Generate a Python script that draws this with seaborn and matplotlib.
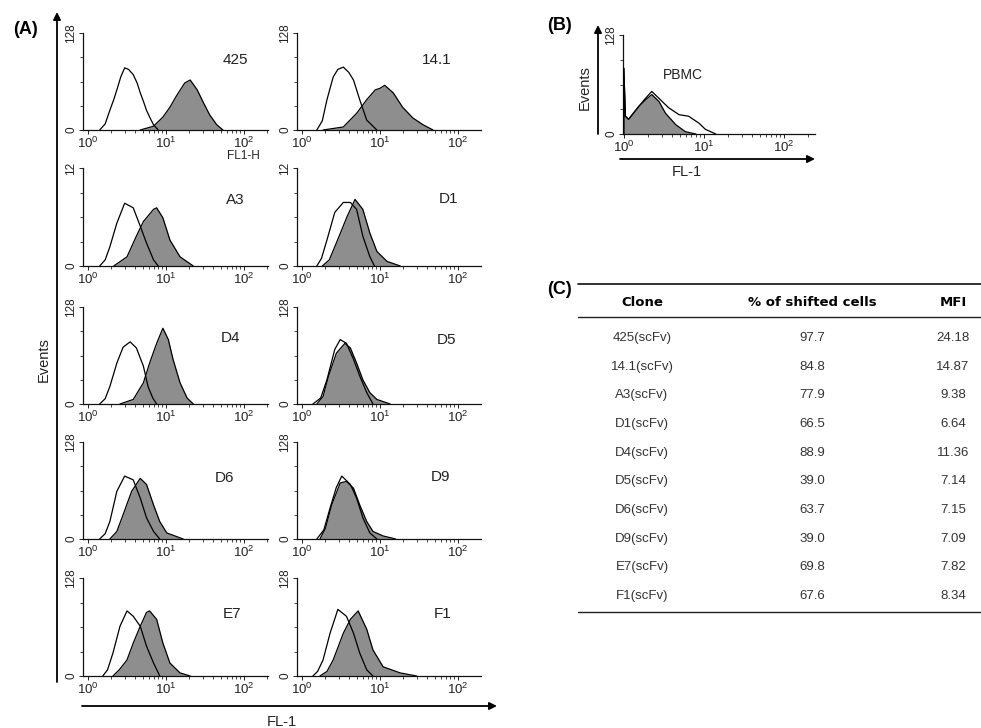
import numpy as np
import pandas as pd
import matplotlib
matplotlib.use("Agg")
import matplotlib.pyplot as plt
from matplotlib.patches import FancyArrowPatch
from matplotlib.lines import Line2D
from matplotlib.ticker import FixedLocator, NullFormatter
import seaborn as sns

# ---------------------------------------------------------------- data
# flow-cytometry histograms: fluorescence given in decades (log10 FL-1),
# events per channel on a 0-128 scale
CLONES = ["425", "14.1", "A3", "D1", "D4", "D5", "D6", "D9", "E7", "F1"]

CONTROL_DECADE = [
    [0.15, 0.22, 0.28, 0.33, 0.37, 0.42, 0.47, 0.52, 0.58, 0.63, 0.67, 0.71, 0.75, 0.80, 0.84, 0.90],
    [0.19, 0.26, 0.32, 0.40, 0.46, 0.53, 0.60, 0.66, 0.74, 0.83, 0.96],
    [0.15, 0.22, 0.28, 0.37, 0.47, 0.58, 0.67, 0.75, 0.84, 0.90],
    [0.19, 0.25, 0.32, 0.42, 0.53, 0.62, 0.70, 0.78, 0.87, 0.93],
    [0.15, 0.22, 0.28, 0.37, 0.45, 0.54, 0.62, 0.71, 0.77, 0.83, 0.88],
    [0.14, 0.24, 0.32, 0.42, 0.49, 0.57, 0.66, 0.74, 0.83, 0.91],
    [0.15, 0.22, 0.28, 0.37, 0.47, 0.58, 0.67, 0.75, 0.84, 0.92],
    [0.19, 0.28, 0.36, 0.44, 0.51, 0.62, 0.70, 0.78, 0.87, 0.96],
    [0.19, 0.25, 0.32, 0.41, 0.50, 0.58, 0.67, 0.75, 0.84, 0.92],
    [0.14, 0.20, 0.27, 0.36, 0.46, 0.57, 0.66, 0.74, 0.83, 0.91],
]
CONTROL_EVENTS = [
    [0, 8, 26, 40, 53, 70, 82, 80, 73, 62, 49, 38, 26, 15, 7, 0],
    [0, 12, 40, 70, 80, 83, 76, 66, 40, 13, 0],
    [0, 8, 25, 56, 82, 76, 52, 30, 8, 0],
    [0, 10, 34, 70, 83, 83, 74, 39, 12, 0],
    [0, 7, 23, 54, 75, 82, 74, 50, 23, 8, 0],
    [0, 8, 32, 72, 85, 80, 59, 37, 15, 0],
    [0, 7, 23, 63, 83, 78, 54, 28, 10, 0],
    [0, 12, 41, 68, 83, 72, 54, 28, 8, 0],
    [0, 8, 30, 65, 85, 78, 65, 39, 17, 0],
    [0, 6, 21, 56, 87, 78, 56, 30, 8, 0],
]
SCFV_DECADE = [
    [0.67, 0.84, 0.96, 1.05, 1.14, 1.24, 1.31, 1.40, 1.48, 1.56, 1.65, 1.73],
    [0.27, 0.53, 0.70, 0.83, 0.94, 1.00, 1.06, 1.17, 1.29, 1.42, 1.55, 1.68],
    [0.33, 0.50, 0.62, 0.71, 0.84, 0.88, 0.96, 1.05, 1.18, 1.35],
    [0.26, 0.35, 0.44, 0.58, 0.68, 0.78, 0.87, 0.96, 1.09, 1.26],
    [0.41, 0.58, 0.71, 0.79, 0.88, 0.96, 1.03, 1.09, 1.18, 1.27, 1.35],
    [0.19, 0.27, 0.34, 0.44, 0.55, 0.62, 0.70, 0.78, 0.87, 0.96, 1.13],
    [0.28, 0.37, 0.45, 0.56, 0.67, 0.75, 0.84, 0.92, 1.01, 1.22],
    [0.23, 0.30, 0.38, 0.49, 0.57, 0.66, 0.74, 0.83, 0.91, 1.04, 1.20],
    [0.32, 0.40, 0.50, 0.58, 0.67, 0.75, 0.79, 0.88, 0.96, 1.05, 1.18, 1.31],
    [0.23, 0.32, 0.40, 0.53, 0.62, 0.72, 0.83, 0.91, 1.04, 1.26, 1.47],
]
SCFV_EVENTS = [
    [0, 5, 17, 30, 46, 62, 66, 53, 36, 20, 7, 0],
    [0, 4, 22, 40, 53, 55, 59, 49, 30, 16, 7, 0],
    [0, 12, 39, 58, 74, 76, 63, 34, 12, 0],
    [0, 8, 30, 65, 87, 74, 43, 19, 6, 0],
    [0, 6, 28, 54, 80, 100, 85, 59, 28, 8, 0],
    [0, 10, 37, 67, 80, 74, 54, 32, 15, 6, 0],
    [0, 10, 32, 63, 80, 72, 45, 23, 8, 0],
    [0, 14, 45, 74, 76, 67, 45, 23, 10, 4, 0],
    [0, 8, 21, 43, 65, 83, 85, 74, 43, 17, 4, 0],
    [0, 6, 21, 56, 74, 85, 61, 34, 12, 4, 0],
]
YMAX_LABELS = ["128", "128", "12", "12", "128", "128", "128", "128", "128", "128"]

# PBMC panel
PBMC_STAINED_DECADE = [0.0, 0.0, 0.02, 0.06, 0.19, 0.27, 0.35, 0.44, 0.52, 0.65, 0.77, 0.90]
PBMC_STAINED_EVENTS = [0, 85, 23, 19, 36, 44, 51, 42, 27, 12, 3, 0]
PBMC_OUTLINE_DECADE = [0.0, 0.0, 0.02, 0.06, 0.19, 0.27, 0.35, 0.44, 0.56, 0.69, 0.81, 0.94, 1.02, 1.15]
PBMC_OUTLINE_EVENTS = [0, 85, 23, 19, 36, 46, 55, 46, 34, 25, 23, 14, 6, 0]

# summary table
TABLE_CLONES = ["425(scFv)", "14.1(scFv)", "A3(scFv)", "D1(scFv)", "D4(scFv)",
                "D5(scFv)", "D6(scFv)", "D9(scFv)", "E7(scFv)", "F1(scFv)"]
SHIFTED_PCT = [97.7, 84.8, 77.9, 66.5, 88.9, 39.0, 63.7, 39.0, 69.8, 67.6]
MFI = [24.18, 14.87, 9.38, 6.64, 11.36, 7.14, 7.15, 7.09, 7.82, 8.34]

# ---------------------------------------------------------------- style
sns.set_theme(style="ticks")
plt.rcParams["font.family"] = ["Liberation Sans", "DejaVu Sans"]
plt.rcParams["mathtext.fontset"] = "custom"
plt.rcParams["mathtext.rm"] = "Liberation Sans"
plt.rcParams["mathtext.default"] = "regular"

W, H = 981, 728
fig = plt.figure(figsize=(W / 100, H / 100), dpi=100)
fig.patch.set_facecolor("white")

FILL = "#8e8e8e"
INK = "#222222"


def box(left, top, right, bottom):
    return [left / W, 1 - bottom / H, (right - left) / W, (bottom - top) / H]


def fpos(x, y):
    return (x / W, 1 - y / H)


def arrow(x0, y0, x1, y1):
    fig.add_artist(FancyArrowPatch(fpos(x0, y0), fpos(x1, y1), transform=fig.transFigure,
                                   arrowstyle="-|>", mutation_scale=11, lw=1.3,
                                   color="black", shrinkA=0, shrinkB=0))


def style_hist_axes(ax, xlo, xhi, top_label):
    ax.set_xscale("log")
    ax.set_xlim(10 ** xlo, 10 ** xhi)
    ax.set_ylim(0, 128)
    ax.set_facecolor("none")
    ax.xaxis.set_major_locator(FixedLocator([1, 10, 100]))
    ax.set_xticklabels([r"$10^{0}$", r"$10^{1}$", r"$10^{2}$"])
    minors = [k * 10 ** d for d in range(0, 3) for k in range(2, 10) if k * 10 ** d <= 10 ** xhi]
    ax.xaxis.set_minor_locator(FixedLocator(minors))
    ax.xaxis.set_minor_formatter(NullFormatter())
    ax.yaxis.set_major_locator(FixedLocator([0, 128]))
    ax.set_yticklabels(["0", top_label], rotation=90, va="center")
    ax.yaxis.set_minor_locator(FixedLocator([32, 64, 96]))
    ax.tick_params(axis="x", which="major", length=3, width=0.7, pad=1,
                   labelsize=9.5, colors=INK)
    ax.tick_params(axis="x", which="minor", length=2, width=0.6)
    ax.tick_params(axis="y", which="major", length=3, width=0.7, pad=1,
                   labelsize=8.5, colors=INK)
    ax.tick_params(axis="y", which="minor", length=2, width=0.6)
    ax.set_xlabel("")
    ax.set_ylabel("")
    sns.despine(ax=ax)
    for s in ("left", "bottom"):
        ax.spines[s].set_linewidth(0.9)
        ax.spines[s].set_color("#111111")


def draw_pair(ax, filled_dec, filled_ev, open_dec, open_ev):
    fx = 10 ** np.asarray(filled_dec, dtype=float)
    ox = 10 ** np.asarray(open_dec, dtype=float)
    ax.fill_between(fx, filled_ev, 0, color=FILL, lw=0, zorder=1)
    sns.lineplot(x=fx, y=filled_ev, ax=ax, color="black", lw=0.9,
                 estimator=None, sort=False, zorder=2)
    sns.lineplot(x=ox, y=open_ev, ax=ax, color="black", lw=0.9,
                 estimator=None, sort=False, zorder=3)


# ---------------------------------------------------------------- panel A
cols = [(83, 268), (297, 481)]
rows = [(33, 130), (168, 266), (307, 404), (442, 539), (578, 676)]
label_pos = [(235, 60), (437, 60), (235, 200), (449, 199), (230, 338),
             (447, 340), (224, 478), (440, 477), (232, 614), (443, 614)]

for i, clone in enumerate(CLONES):
    r, c = divmod(i, 2)
    left, right = cols[c]
    top, bottom = rows[r]
    ax = fig.add_axes(box(left, top, right, bottom))
    draw_pair(ax, SCFV_DECADE[i], SCFV_EVENTS[i], CONTROL_DECADE[i], CONTROL_EVENTS[i])
    xlo = -5 / 78
    xhi = xlo + (right - left) / 78
    style_hist_axes(ax, xlo, xhi, YMAX_LABELS[i])
    lx, ly = label_pos[i]
    fig.text(*fpos(lx, ly), clone, ha="center", va="center", fontsize=11, color=INK)

fig.text(*fpos(243, 156), "FL1-H", ha="center", va="center", fontsize=8.5, color=INK)

arrow(57, 682, 57, 12)
arrow(82, 706, 497, 706)
fig.text(*fpos(44, 360), "Events", rotation=90, ha="center", va="center",
         fontsize=10.5, color=INK)
fig.text(*fpos(282, 722), "FL-1", ha="center", va="center", fontsize=10.5, color=INK)
fig.text(*fpos(26, 30), "(A)", ha="center", va="center", fontsize=13,
         fontweight="bold", color="black")

# ---------------------------------------------------------------- panel B
axb = fig.add_axes(box(623, 35, 815, 134))
draw_pair(axb, PBMC_STAINED_DECADE, PBMC_STAINED_EVENTS,
          PBMC_OUTLINE_DECADE, PBMC_OUTLINE_EVENTS)
style_hist_axes(axb, -0.01, -0.01 + 192 / 80, "128")
fig.text(*fpos(683, 75), "PBMC", ha="center", va="center", fontsize=10, color=INK)
arrow(598, 134, 598, 25)
arrow(620, 159, 815, 159)
fig.text(*fpos(585, 88), "Events", rotation=90, ha="center", va="center",
         fontsize=10.5, color=INK)
fig.text(*fpos(687, 172), "FL-1", ha="center", va="center", fontsize=10.5, color=INK)
fig.text(*fpos(560, 26), "(B)", ha="center", va="center", fontsize=13,
         fontweight="bold", color="black")

# ---------------------------------------------------------------- panel C
def hline(y, x0=578, x1=981, lw=1.0):
    fig.add_artist(Line2D([x0 / W, x1 / W], [1 - y / H, 1 - y / H],
                          transform=fig.transFigure, lw=lw, color="#222222"))


col_x = [642, 812, 953]
hline(284, lw=1.3)
hline(317, lw=1.0)
hline(612, lw=1.0)
for x, head in zip(col_x, ["Clone", "% of shifted cells", "MFI"]):
    fig.text(*fpos(x, 302), head, ha="center", va="center", fontsize=9.5,
             fontweight="bold", family=["DejaVu Sans"], color="black")

row_y = [338, 367, 395, 424, 453, 481, 510, 539, 567, 596]
for y, name, pct, mfi in zip(row_y, TABLE_CLONES, SHIFTED_PCT, MFI):
    fig.text(*fpos(col_x[0], y), name, ha="center", va="center", fontsize=9.5, color="#333333")
    fig.text(*fpos(col_x[1], y), f"{pct:.1f}", ha="center", va="center", fontsize=9.5, color="#333333")
    fig.text(*fpos(col_x[2], y), f"{mfi:.2f}", ha="center", va="center", fontsize=9.5, color="#333333")

fig.text(*fpos(560, 290), "(C)", ha="center", va="center", fontsize=13,
         fontweight="bold", color="black")

fig.savefig("out.png", dpi=100, facecolor="white")
